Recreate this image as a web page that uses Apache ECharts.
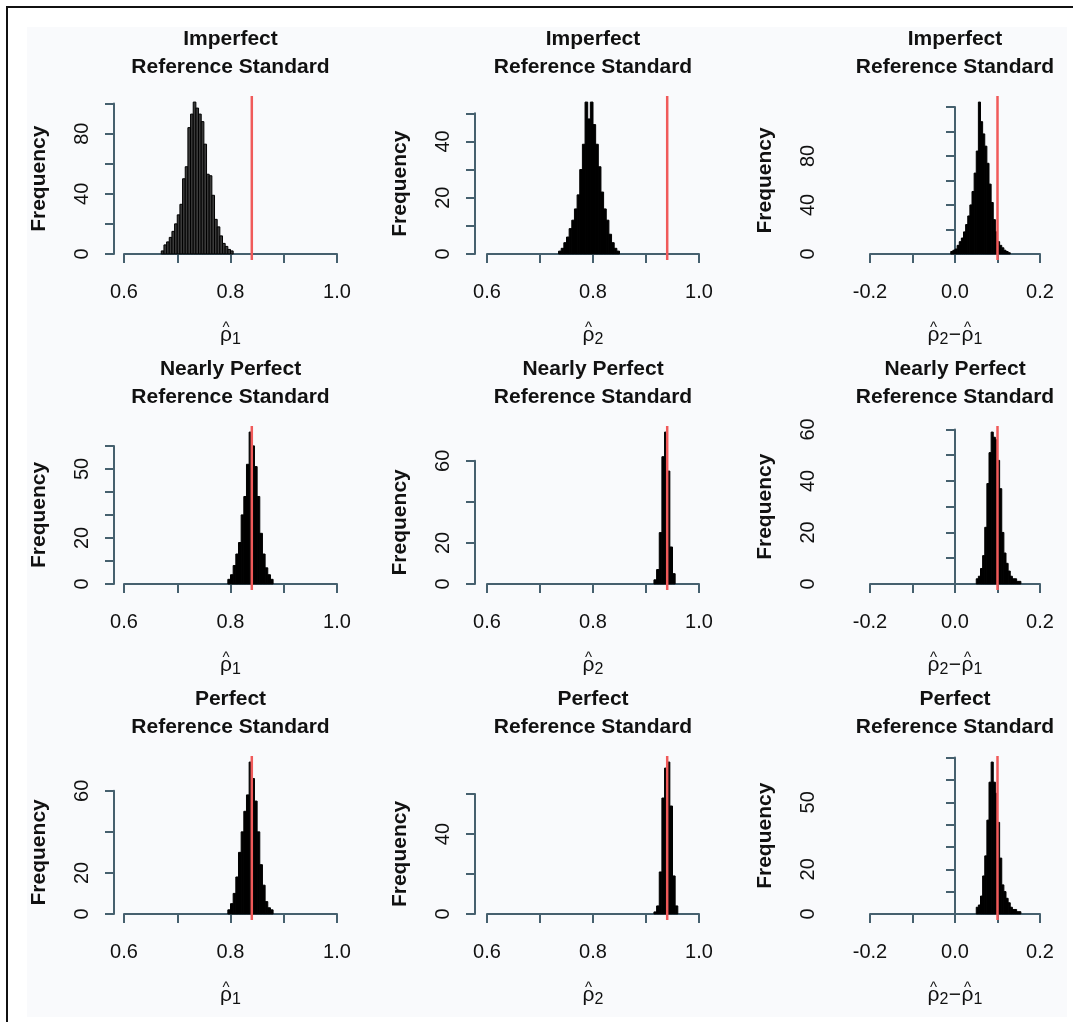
<!DOCTYPE html>
<html>
<head>
<meta charset="utf-8">
<script src="https://cdn.jsdelivr.net/npm/echarts@6/dist/echarts.min.js"></script>
<style>
  html, body { margin: 0; background: #fff; }
  #chart { width: 1073px; height: 1022px; }
</style>
</head>
<body>
<div id="chart"></div>
<script>
// histogram counts (bins of binWidth starting at *Start)
var binWidth = 0.005;

var r1c1Start = 0.670;
var r1c1Counts = [2, 6, 8, 11, 15, 20, 26, 33, 50, 58, 84, 93, 101, 97, 93, 88, 73, 53, 52, 39, 23, 18, 12, 7, 5, 3, 2];
var r1c2Start = 0.735;
var r1c2Counts = [1, 2, 4, 6, 9, 12, 16, 21, 30, 39, 54, 48, 54, 46, 39, 31, 22, 16, 12, 7, 4, 2, 1];
var r1c3Start = -0.010;
var r1c3Counts = [2, 3, 4, 7, 10, 13, 18, 24, 31, 40, 51, 66, 84, 124, 108, 98, 88, 74, 57, 42, 28, 18, 10, 7, 5, 3, 2, 1];

var r2c1Start = 0.795;
var r2c1Counts = [2, 4, 8, 13, 18, 30, 38, 52, 66, 60, 51, 38, 22, 13, 7, 4, 2];
var r2c2Start = 0.915;
var r2c2Counts = [2, 7, 25, 62, 74, 55, 18, 5];
var r2c3Start = 0.050;
var r2c3Counts = [2, 3, 6, 11, 22, 39, 51, 59, 57, 56, 48, 37, 20, 12, 8, 5, 3, 2, 2, 1, 1];

var r3c1Start = 0.795;
var r3c1Counts = [2, 5, 10, 18, 30, 40, 50, 58, 74, 66, 55, 40, 24, 14, 6, 3, 2];
var r3c2Start = 0.915;
var r3c2Counts = [1, 4, 21, 58, 73, 76, 54, 19, 4];
var r3c3Start = 0.050;
var r3c3Counts = [3, 4, 8, 17, 26, 42, 59, 68, 59, 54, 41, 25, 13, 10, 7, 5, 3, 2, 2, 1, 1];

// true values (red lines)
var trueValues = [0.84, 0.94, 0.10];

var rowTitles = ['Imperfect', 'Nearly Perfect', 'Perfect'];
var subTitle = 'Reference Standard';
// x-axis names: pieces of "rho-hat with subscript", [text, kind]
var xNames = [
  [['ρ', 'rho'], ['1', 'sub']],
  [['ρ', 'rho'], ['2', 'sub']],
  [['ρ', 'rho'], ['2', 'sub'], ['−', 'op'], ['ρ', 'rho'], ['1', 'sub']]
];
var xRanges = [[0.6, 1.0], [0.6, 1.0], [-0.2, 0.2]];
var xLabelsShown = [['0.6', '0.8', '1.0'], ['0.6', '0.8', '1.0'], ['-0.2', '0.0', '0.2']];
var yTickStep = [[20, 10, 20], [10, 20, 10], [20, 20, 10]];
var yLabelsShown = [
  [[0, 40, 80], [0, 20, 40], [0, 40, 80]],
  [[0, 20, 50], [0, 20, 60], [0, 20, 40, 60]],
  [[0, 20, 60], [0, 40], [0, 20, 50]]
];

var panels = [
  [[r1c1Start, r1c1Counts], [r1c2Start, r1c2Counts], [r1c3Start, r1c3Counts]],
  [[r2c1Start, r2c1Counts], [r2c2Start, r2c2Counts], [r2c3Start, r2c3Counts]],
  [[r3c1Start, r3c1Counts], [r3c2Start, r3c2Counts], [r3c3Start, r3c3Counts]]
];

// layout (px)
var colTickLeft = [124, 487, 870];
var colTickRight = [337, 699, 1040];
var colYAxisGap = [10, 12, 30];
var rowPlotBottom = [260, 590, 920];
var plotHeight = 164;

var FONT = '"Liberation Sans", Arial, Helvetica, sans-serif';
var AXIS_COLOR = '#46606e';
var RED = '#f05a5a';

// widths of the name pieces (px) and their vertical centres below the x axis
var pieceStyle = {
  rho: { size: 21, w: 12, dy: 75 },
  sub: { size: 16, w: 9, dy: 79.5 },
  op: { size: 21, w: 13, dy: 75 }
};

var grids = [], xAxes = [], yAxes = [], series = [], graphics = [];

graphics.push({
  type: 'rect', z: -10,
  shape: { x: 27, y: 27, width: 1040, height: 990 },
  style: { fill: '#f9fafc' }
});
graphics.push({
  type: 'rect', z: 100,
  shape: { x: 7, y: 7, width: 1200, height: 1200 },
  style: { fill: 'none', stroke: '#111', lineWidth: 2 }
});

for (var r = 0; r < 3; r++) {
  for (var c = 0; c < 3; c++) {
    var idx = r * 3 + c;
    var start = panels[r][c][0];
    var counts = panels[r][c][1];
    var M = Math.max.apply(null, counts);
    var step = yTickStep[r][c];
    var topTick = Math.floor(1.04 * M / step) * step;
    var ppu = plotHeight / (1.08 * M);
    var zeroY = rowPlotBottom[r] - 0.04 * M * ppu;

    grids.push({
      left: colTickLeft[c],
      width: colTickRight[c] - colTickLeft[c],
      top: zeroY - topTick * ppu,
      height: topTick * ppu
    });

    (function (shownX, shownY) {
      xAxes.push({
        type: 'value', gridIndex: idx,
        min: xRanges[c][0], max: xRanges[c][1], interval: 0.1,
        offset: rowPlotBottom[r] - zeroY,
        splitLine: { show: false },
        axisLine: { lineStyle: { color: AXIS_COLOR, width: 2 } },
        axisTick: { length: 9, lineStyle: { color: AXIS_COLOR, width: 2 } },
        axisLabel: {
          margin: 22, color: '#111', fontSize: 20, fontFamily: FONT,
          formatter: function (v) {
            var s = (Math.abs(v) < 1e-9 ? 0 : v).toFixed(1);
            return shownX.indexOf(s) >= 0 ? s : '';
          }
        }
      });
      yAxes.push({
        type: 'value', gridIndex: idx,
        min: 0, max: topTick, interval: step,
        offset: colYAxisGap[c],
        splitLine: { show: false },
        axisLine: { show: true, lineStyle: { color: AXIS_COLOR, width: 2 } },
        axisTick: { show: true, length: 9, lineStyle: { color: AXIS_COLOR, width: 2 } },
        axisLabel: {
          rotate: 90, margin: 22, color: '#111', fontSize: 20, fontFamily: FONT,
          formatter: function (v) { return shownY.indexOf(Math.round(v)) >= 0 ? String(Math.round(v)) : ''; }
        },
        name: 'Frequency', nameLocation: 'middle', nameGap: 64,
        nameTextStyle: { fontSize: 21, fontWeight: 'bold', fontFamily: FONT, color: '#111' }
      });
    })(xLabelsShown[c], yLabelsShown[r][c]);

    var bins = counts.map(function (n, i) {
      return [start + i * binWidth, start + (i + 1) * binWidth, n];
    });
    var fill = (r === 0 && c === 0) ? '#3a3a3a' : '#000';
    series.push({
      type: 'custom', xAxisIndex: idx, yAxisIndex: idx,
      data: bins, encode: { x: [0, 1], y: 2 },
      renderItem: (function (fillColor) {
        return function (params, api) {
          var p0 = api.coord([api.value(0), 0]);
          var p1 = api.coord([api.value(1), api.value(2)]);
          return {
            type: 'rect',
            shape: { x: p0[0], y: p1[1], width: p1[0] - p0[0], height: p0[1] - p1[1] },
            style: { fill: fillColor, stroke: '#000', lineWidth: 1 }
          };
        };
      })(fill)
    });

    // true value line, spanning the whole plotting region
    series.push({
      type: 'custom', xAxisIndex: idx, yAxisIndex: idx, z: 5,
      data: [[trueValues[c], -0.04 * M, 1.04 * M]],
      encode: { x: 0, y: [1, 2] },
      renderItem: function (params, api) {
        var a = api.coord([api.value(0), api.value(1)]);
        var b = api.coord([api.value(0), api.value(2)]);
        return {
          type: 'line',
          shape: { x1: a[0], y1: a[1], x2: b[0], y2: b[1] },
          style: { stroke: RED, lineWidth: 2.5 }
        };
      }
    });

    var cx = (colTickLeft[c] + colTickRight[c]) / 2;

    // panel title (two lines), centred on the x axis
    graphics.push({
      type: 'text', x: cx, y: rowPlotBottom[r] - 235,
      style: {
        text: rowTitles[r] + '\n' + subTitle,
        align: 'center', verticalAlign: 'top',
        font: 'bold 21px ' + FONT, lineHeight: 28, fill: '#111'
      }
    });

    // x-axis name: rho with a hat and a subscript
    var pieces = xNames[c];
    var total = 0;
    pieces.forEach(function (p) { total += pieceStyle[p[1]].w; });
    var px = cx - total / 2;
    pieces.forEach(function (p) {
      var st = pieceStyle[p[1]];
      var mid = px + st.w / 2;
      graphics.push({
        type: 'text', x: mid, y: rowPlotBottom[r] + st.dy,
        style: { text: p[0], align: 'center', verticalAlign: 'middle', font: st.size + 'px ' + FONT, fill: '#111' }
      });
      if (p[1] === 'rho') {
        graphics.push({
          type: 'text', x: mid, y: rowPlotBottom[r] + 68,
          style: { text: '^', align: 'center', verticalAlign: 'middle', font: '15px ' + FONT, fill: '#111' }
        });
      }
      px += st.w;
    });
  }
}

var chart = echarts.init(document.getElementById('chart'));
chart.setOption({
  animation: false,
  backgroundColor: '#fff',
  grid: grids,
  xAxis: xAxes,
  yAxis: yAxes,
  series: series,
  graphic: graphics
});
</script>
</body>
</html>
